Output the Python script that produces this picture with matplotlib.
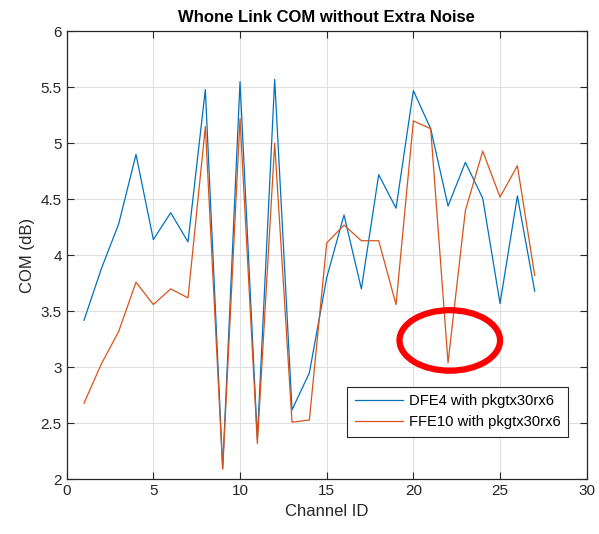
import matplotlib.pyplot as plt
from matplotlib.patches import Ellipse

plt.rcParams['font.family'] = ['Liberation Sans', 'DejaVu Sans']

channel = list(range(1, 28))
dfe4 = [3.42, 3.88, 4.28, 4.90, 4.14, 4.38, 4.12, 5.48, 2.10, 5.55,
        2.36, 5.57, 2.62, 2.95, 3.80, 4.36, 3.70, 4.72, 4.42, 5.47,
        5.13, 4.44, 4.83, 4.51, 3.57, 4.53, 3.68]
ffe10 = [2.68, 3.03, 3.32, 3.76, 3.56, 3.70, 3.62, 5.15, 2.09, 5.22,
         2.32, 5.00, 2.51, 2.53, 4.11, 4.27, 4.13, 4.13, 3.56, 5.20,
         5.13, 3.04, 4.40, 4.93, 4.52, 4.80, 3.82]


def draw():
    fig = plt.figure(figsize=(5.99, 5.34), dpi=100)
    ax = fig.add_axes([0.1113, 0.1024, 0.8682, 0.839])

    ax.plot(channel, dfe4, color='#0072BD', lw=0.9, label='DFE4 with pkgtx30rx6')
    ax.plot(channel, ffe10, color='#D95319', lw=0.9, label='FFE10 with pkgtx30rx6')

    # red ring marking channel 22
    ax.add_patch(Ellipse((22.1, 3.24), 5.8, 0.54, fill=False,
                         edgecolor='red', lw=4.5, zorder=5))

    ax.set_xlim(0, 30)
    ax.set_ylim(2, 6)
    ax.set_xticks(range(0, 31, 5))
    ax.set_yticks([2, 2.5, 3, 3.5, 4, 4.5, 5, 5.5, 6])
    ax.set_yticklabels(['2', '2.5', '3', '3.5', '4', '4.5', '5', '5.5', '6'])
    ax.grid(True, color='#e0e0e0', lw=0.8)
    ax.set_axisbelow(True)
    ax.tick_params(direction='in', top=True, right=True, labelsize=11,
                   colors='#262626', length=5, width=0.8)
    for s in ax.spines.values():
        s.set_color('#262626')
        s.set_linewidth(0.9)

    ax.set_xlabel('Channel ID', fontsize=12, color='#262626')
    ax.set_ylabel('COM (dB)', fontsize=12, color='#262626')
    ax.set_title('Whone Link COM without Extra Noise', fontsize=12,
                 fontweight='bold', pad=7)

    leg = ax.legend(loc='lower left', bbox_to_anchor=(0.54, 0.095),
                    fontsize=10.6, fancybox=False, framealpha=1,
                    borderaxespad=0, handlelength=3.3, handletextpad=0.35,
                    borderpad=0.5)
    leg.get_frame().set_edgecolor('#262626')
    leg.get_frame().set_linewidth(0.8)

    fig.savefig('out.png', dpi=100)


if __name__ == "__main__":
    draw()
